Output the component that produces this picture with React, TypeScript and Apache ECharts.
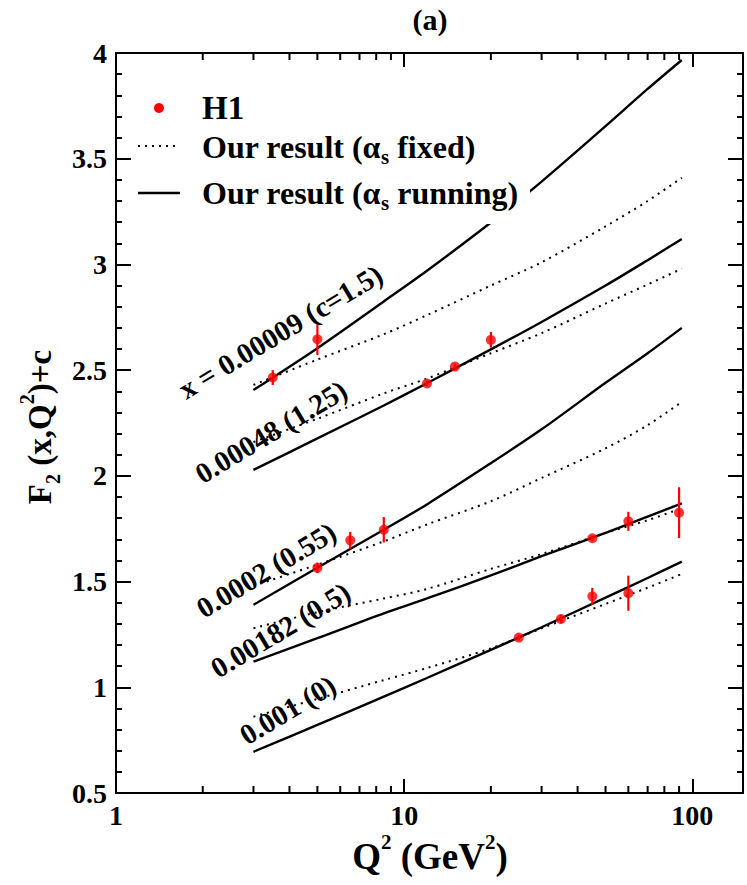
import React, { useEffect, useRef } from 'react';
import * as echarts from 'echarts';

const SERIF = "'Liberation Serif', 'Times New Roman', serif";

// Q^2 grid on which the model curves are read
const Q2_GRID = [3, 5, 8.5, 12, 20, 30, 50, 70, 92];

// alpha_s running (solid) curves, offset c included
const RUN_A = [2.406, 2.604, 2.825, 2.97, 3.198, 3.392, 3.654, 3.83, 3.967];
const RUN_B = [2.028, 2.177, 2.333, 2.438, 2.598, 2.728, 2.9, 3.02, 3.12];
const RUN_C = [1.39, 1.565, 1.745, 1.865, 2.06, 2.22, 2.44, 2.58, 2.7];
const RUN_D = [1.121, 1.232, 1.35, 1.42, 1.529, 1.62, 1.73, 1.807, 1.87];
const RUN_E = [0.695, 0.822, 0.956, 1.044, 1.177, 1.284, 1.424, 1.517, 1.594];

// alpha_s fixed (dotted) curves
const FIX_A = [2.43, 2.55, 2.67, 2.76, 2.9, 3.01, 3.18, 3.3, 3.41];
const FIX_B = [2.16, 2.27, 2.39, 2.46, 2.58, 2.675, 2.815, 2.905, 2.98];
const FIX_C = [1.48, 1.58, 1.69, 1.77, 1.88, 1.99, 2.13, 2.24, 2.35];
const FIX_D = [1.279, 1.355, 1.42, 1.465, 1.56, 1.63, 1.73, 1.79, 1.847];
const FIX_E = [0.861, 0.945, 1.034, 1.091, 1.184, 1.279, 1.394, 1.471, 1.536];

// H1 data
const H1_Q2 = [3.5, 5, 12, 15, 20, 5, 6.5, 8.5, 45, 60, 90, 25, 35, 45, 60];
const H1_F2 = [2.465, 2.646, 2.437, 2.517, 2.643, 1.565, 1.695, 1.745, 1.705, 1.785, 1.826, 1.235, 1.323, 1.43, 1.445];
const H1_ERR = [0.035, 0.075, 0.012, 0.015, 0.037, 0.025, 0.04, 0.06, 0.012, 0.045, 0.12, 0.012, 0.02, 0.04, 0.083];

// curve labels
const LABEL_TEXT = ['x = 0.00009 (c=1.5)', '0.00048 (1.25)', '0.0002 (0.55)', '0.00182 (0.5)', '0.001 (0)'];
const LABEL_Q2 = [3.72, 3.45, 3.32, 3.72, 3.94];
const LABEL_F2 = [2.682, 2.209, 1.555, 1.271, 0.893];
const LABEL_ANGLE = 31;

// axes
const X_MIN = 1;
const X_MAX = 150;
const X_MAJOR = [1, 10, 100];
const X_MINOR = [2, 3, 4, 5, 6, 7, 8, 9, 20, 30, 40, 50, 60, 70, 80, 90];
const Y_MIN = 0.5;
const Y_MAX = 4;
const Y_STEP = 0.5;

const RUN_CURVES = [RUN_A, RUN_B, RUN_C, RUN_D, RUN_E];
const FIX_CURVES = [FIX_A, FIX_B, FIX_C, FIX_D, FIX_E];

const axisLineStyle = { color: '#000', width: 2 };

function isMajor(v: number) {
  return X_MAJOR.some((m) => Math.abs(v - m) / m < 1e-6);
}

export default function App() {
  const ref = useRef<HTMLDivElement>(null);
  useEffect(() => {
    if (!ref.current) return;
    const chart = echarts.init(ref.current, undefined, { renderer: 'svg' });

    const xAxisBase = (pos: 'bottom' | 'top', labels: boolean) => ({
      type: 'log',
      logBase: 10,
      min: X_MIN,
      max: X_MAX,
      position: pos,
      axisLine: { show: true, onZero: false, lineStyle: axisLineStyle },
      axisTick: { show: true, inside: true, length: 14, lineStyle: axisLineStyle },
      minorTick: { show: false },
      splitLine: { show: false },
      axisLabel: {
        show: labels,
        formatter: (v: number) => (isMajor(v) ? String(Math.round(v)) : ''),
        fontSize: 28,
        fontWeight: 'bold',
        fontFamily: SERIF,
        color: '#000',
        margin: 8,
      },
    });

    const yAxisBase = (pos: 'left' | 'right', labels: boolean) => ({
      type: 'value',
      min: Y_MIN,
      max: Y_MAX,
      interval: Y_STEP,
      position: pos,
      axisLine: { show: true, onZero: false, lineStyle: axisLineStyle },
      axisTick: { show: true, inside: true, length: 15, lineStyle: axisLineStyle },
      minorTick: { show: true, splitNumber: 5, length: 6, lineStyle: axisLineStyle },
      splitLine: { show: false },
      minorSplitLine: { show: false },
      axisLabel: {
        show: labels,
        formatter: (v: number) => String(v),
        fontSize: 28,
        fontWeight: 'bold',
        fontFamily: SERIF,
        color: '#000',
        margin: 9,
      },
    });

    const lineSeries: any[] = [];
    RUN_CURVES.forEach((vals) => {
      lineSeries.push({
        type: 'line',
        data: Q2_GRID.map((q, i) => [q, vals[i]]),
        smooth: 0.3,
        showSymbol: false,
        symbol: 'none',
        lineStyle: { color: '#000', width: 2.4 },
        silent: true,
        z: 2,
      });
    });
    FIX_CURVES.forEach((vals) => {
      lineSeries.push({
        type: 'line',
        data: Q2_GRID.map((q, i) => [q, vals[i]]),
        smooth: 0.3,
        showSymbol: false,
        symbol: 'none',
        lineStyle: { color: '#000', width: 2, type: [2, 5] },
        silent: true,
        z: 2,
      });
    });

    const sub = { fontSize: 21, fontWeight: 'bold', fontFamily: SERIF, lineHeight: 20, verticalAlign: 'bottom', fill: '#000' };
    const mainLeg = { fontSize: 32, fontWeight: 'bold', fontFamily: SERIF, lineHeight: 40, fill: '#000' };

    chart.setOption({
      animation: false,
      backgroundColor: '#fff',
      textStyle: { fontFamily: SERIF },
      grid: { left: 116, right: 4, top: 53, bottom: 92, containLabel: false },
      xAxis: [xAxisBase('bottom', true), xAxisBase('top', false)],
      yAxis: [yAxisBase('left', true), yAxisBase('right', false)],
      series: [
        ...lineSeries,
        {
          type: 'custom',
          name: 'minorTicks',
          silent: true,
          clip: false,
          data: X_MINOR.map((v) => [v, Y_MIN]),
          encode: { x: 0, y: 1 },
          renderItem: (params: any, api: any) => {
            const v = api.value(0);
            const b = api.coord([v, Y_MIN]);
            const t = api.coord([v, Y_MAX]);
            return {
              type: 'group',
              children: [
                { type: 'line', shape: { x1: b[0], y1: b[1], x2: b[0], y2: b[1] - 7 }, style: { stroke: '#000', lineWidth: 2 } },
                { type: 'line', shape: { x1: t[0], y1: t[1], x2: t[0], y2: t[1] + 7 }, style: { stroke: '#000', lineWidth: 2 } },
              ],
            };
          },
          z: 3,
        },
        {
          type: 'custom',
          name: 'errorBars',
          silent: true,
          data: H1_Q2.map((q, i) => [q, H1_F2[i], H1_ERR[i]]),
          encode: { x: 0, y: 1 },
          renderItem: (params: any, api: any) => {
            const q = api.value(0);
            const y = api.value(1);
            const e = api.value(2);
            const lo = api.coord([q, y - e]);
            const hi = api.coord([q, y + e]);
            return {
              type: 'line',
              shape: { x1: lo[0], y1: lo[1], x2: hi[0], y2: hi[1] },
              style: { stroke: '#ff0000', lineWidth: 2.2 },
            };
          },
          z: 4,
        },
        {
          type: 'scatter',
          name: 'H1',
          data: H1_Q2.map((q, i) => [q, H1_F2[i]]),
          symbol: 'circle',
          symbolSize: 10,
          itemStyle: { color: '#ff0000' },
          silent: true,
          z: 5,
        },
        {
          type: 'custom',
          name: 'curveLabels',
          silent: true,
          clip: false,
          data: LABEL_Q2.map((q, i) => [q, LABEL_F2[i]]),
          encode: { x: 0, y: 1 },
          renderItem: (params: any, api: any) => {
            const p = api.coord([api.value(0), api.value(1)]);
            return {
              type: 'text',
              x: p[0],
              y: p[1],
              rotation: (LABEL_ANGLE * Math.PI) / 180,
              style: {
                text: LABEL_TEXT[params.dataIndex],
                fill: '#000',
                fontSize: 29,
                fontWeight: 'bold',
                fontFamily: SERIF,
                align: 'center',
                verticalAlign: 'middle',
              },
            };
          },
          z: 6,
        },
      ],
      graphic: [
        {
          type: 'text',
          x: 430,
          y: 19,
          style: { text: '(a)', fontSize: 30, fontWeight: 'bold', fontFamily: SERIF, fill: '#000', align: 'center', verticalAlign: 'middle' },
          z: 100,
        },
        // legend background (hides the curve behind the legend text)
        { type: 'rect', shape: { x: 135, y: 88, width: 395, height: 136 }, style: { fill: '#fff' }, z: 50 },
        { type: 'circle', shape: { cx: 159, cy: 108, r: 5 }, style: { fill: '#ff0000' }, z: 60 },
        {
          type: 'text',
          x: 202,
          y: 108,
          style: { text: 'H1', fontSize: 33, fontWeight: 'bold', fontFamily: SERIF, fill: '#000', align: 'left', verticalAlign: 'middle' },
          z: 60,
        },
        { type: 'line', shape: { x1: 138, y1: 146, x2: 178, y2: 146 }, style: { stroke: '#000', lineWidth: 2, lineDash: [2, 5] }, z: 60 },
        {
          type: 'text',
          x: 202,
          y: 147,
          style: {
            text: '{m|Our result (α}{s|s}{m| fixed)}',
            align: 'left',
            verticalAlign: 'middle',
            rich: { m: mainLeg, s: sub },
          },
          z: 60,
        },
        { type: 'line', shape: { x1: 138, y1: 193, x2: 180, y2: 193 }, style: { stroke: '#000', lineWidth: 2.4 }, z: 60 },
        {
          type: 'text',
          x: 202,
          y: 193,
          style: {
            text: '{m|Our result (α}{s|s}{m| running)}',
            align: 'left',
            verticalAlign: 'middle',
            rich: { m: mainLeg, s: sub },
          },
          z: 60,
        },
        // axis titles
        {
          type: 'text',
          x: 430,
          y: 856,
          style: {
            text: '{m|Q}{p|2}{m| (GeV}{p|2}{m|)}',
            align: 'center',
            verticalAlign: 'middle',
            rich: {
              m: { fontSize: 37, fontWeight: 'bold', fontFamily: SERIF, lineHeight: 50, fill: '#000' },
              p: { fontSize: 21, fontWeight: 'bold', fontFamily: SERIF, lineHeight: 16, verticalAlign: 'top', fill: '#000' },
            },
          },
          z: 100,
        },
        {
          type: 'text',
          x: 40,
          y: 427,
          rotation: Math.PI / 2,
          style: {
            text: '{m|F}{b|2}{m| (x,Q}{p|2}{m|)+c}',
            align: 'center',
            verticalAlign: 'middle',
            rich: {
              m: { fontSize: 33, fontWeight: 'bold', fontFamily: SERIF, lineHeight: 46, fill: '#000' },
              b: { fontSize: 20, fontWeight: 'bold', fontFamily: SERIF, lineHeight: 18, verticalAlign: 'bottom', fill: '#000' },
              p: { fontSize: 20, fontWeight: 'bold', fontFamily: SERIF, lineHeight: 16, verticalAlign: 'top', fill: '#000' },
            },
          },
          z: 100,
        },
      ],
    });

    return () => chart.dispose();
  }, []);

  return <div ref={ref} style={{ position: 'fixed', left: 0, top: 0, width: 747, height: 885, background: '#fff' }} />;
}
